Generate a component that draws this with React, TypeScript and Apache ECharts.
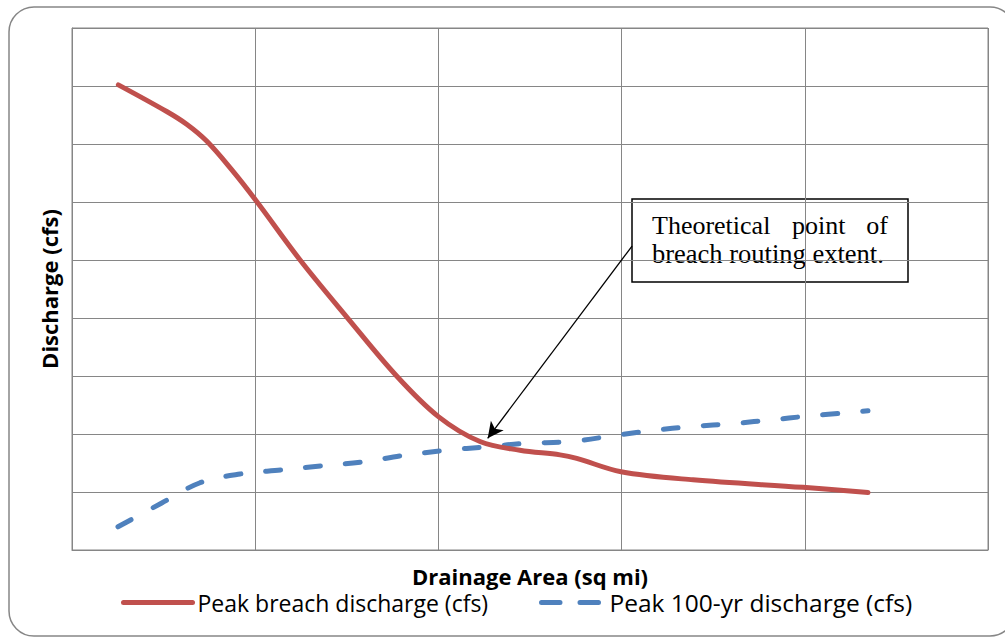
import React, { useEffect, useRef } from "react";
import * as echarts from "echarts";

// Drainage area (chart units) and discharge (chart units)
const breachArea = [0.253, 0.517, 0.626, 0.735, 0.868, 1.003, 1.245, 1.499, 1.772, 2.0, 2.227, 2.445, 2.664, 2.755, 2.997, 3.39, 3.99, 4.345];
const breachDischarge = [8.02, 7.56, 7.34, 7.05, 6.57, 6.03, 5.0, 4.02, 3.0, 2.3, 1.87, 1.72, 1.64, 1.58, 1.35, 1.21, 1.08, 0.99];

const hundredArea = [0.251, 0.49, 0.699, 0.917, 1.145, 1.363, 1.59, 1.808, 2.045, 2.264, 2.482, 2.718, 2.997, 3.164, 3.39, 3.608, 3.837, 3.99, 4.345];
const hundredDischarge = [0.4, 0.81, 1.16, 1.31, 1.38, 1.45, 1.52, 1.63, 1.72, 1.78, 1.84, 1.87, 1.99, 2.06, 2.13, 2.18, 2.25, 2.3, 2.4];

const seriesNames = ["Peak breach discharge (cfs)", "Peak 100-yr discharge (cfs)"];
const xTitle = "Drainage Area (sq mi)";
const yTitle = "Discharge (cfs)";
const noteLine1 = ["Theoretical", "point", "of"];
const noteLine2 = "breach routing extent.";
const arrowFrom = [3.057, 5.24];
const arrowTo = [2.269, 1.926];

const GRID = "#868686";
const SANS = "'Open Sans', sans-serif";
const SERIF = "'Liberation Serif', 'Times New Roman', serif";

export default function App() {
  const ref = useRef<HTMLDivElement>(null);
  useEffect(() => {
    if (!ref.current) return;
    const chart = echarts.init(ref.current, undefined, { renderer: "svg" });
    const axisCommon = {
      type: "value" as const,
      axisLabel: { show: false },
      axisTick: { show: false },
      axisLine: { show: true, lineStyle: { color: GRID, width: 1 } },
      splitLine: { show: true, lineStyle: { color: GRID, width: 1 } },
      nameLocation: "middle" as const,
      nameTextStyle: { fontFamily: SANS, fontWeight: "bold", fontSize: 22, color: "#000" },
    };
    chart.setOption({
      animation: false,
      backgroundColor: "#fff",
      grid: { left: 72, top: 28, right: 17, bottom: 88, show: true, borderColor: GRID, borderWidth: 1 },
      xAxis: { ...axisCommon, min: 0, max: 5, interval: 1, name: xTitle, nameGap: 15 },
      yAxis: { ...axisCommon, min: 0, max: 9, interval: 1, name: yTitle, nameGap: 12 },
      legend: [
        {
          left: 121,
          top: 591,
          padding: 0,
          itemWidth: 69,
          itemHeight: 14,
          itemStyle: { opacity: 0 },
          textStyle: { fontFamily: SANS, fontSize: 23, color: "#000" },
          data: [{ name: seriesNames[0], lineStyle: { width: 5, cap: "round" } }],
        },
        {
          left: 539,
          top: 590,
          padding: 0,
          itemWidth: 63,
          itemHeight: 14,
          itemStyle: { opacity: 0 },
          textStyle: { fontFamily: SANS, fontSize: 24.5, color: "#000" },
          data: [{ name: seriesNames[1], lineStyle: { type: [18.5, 20], width: 5, cap: "round" } }],
        },
      ],
      graphic: [
        {
          type: "rect",
          silent: true,
          z: -10,
          shape: { x: 9, y: 7, width: 1006, height: 629, r: 25 },
          style: { fill: "none", stroke: GRID, lineWidth: 1.5 },
        },
        {
          type: "group",
          z: 100,
          silent: true,
          children: [
            {
              type: "rect",
              shape: { x: 632, y: 199, width: 276, height: 83 },
              style: { fill: "#fff", stroke: "#000", lineWidth: 1.5 },
            },
            { type: "text", x: 652, y: 225, style: { text: noteLine1[0], font: `26px ${SERIF}`, fill: "#000", verticalAlign: "middle" } },
            { type: "text", x: 792, y: 225, style: { text: noteLine1[1], font: `26px ${SERIF}`, fill: "#000", verticalAlign: "middle" } },
            { type: "text", x: 888, y: 225, style: { text: noteLine1[2], font: `26px ${SERIF}`, fill: "#000", verticalAlign: "middle", align: "right" } },
            { type: "text", x: 652, y: 254, style: { text: noteLine2, font: `26.5px ${SERIF}`, fill: "#000", verticalAlign: "middle" } },
          ],
        },
      ],
      series: [
        {
          name: seriesNames[0],
          type: "line",
          data: breachArea.map((x, i) => [x, breachDischarge[i]]),
          smooth: 0.35,
          symbol: "none",
          lineStyle: { color: "#C0504D", width: 5, cap: "round" },
          itemStyle: { color: "#C0504D" },
          z: 3,
          markLine: {
            silent: true,
            symbol: ["none", "arrow"],
            symbolSize: [12, 16],
            label: { show: false },
            lineStyle: { color: "#000", width: 1.3, type: "solid" },
            data: [[{ coord: arrowFrom }, { coord: arrowTo }]],
          },
        },
        {
          name: seriesNames[1],
          type: "line",
          data: hundredArea.map((x, i) => [x, hundredDischarge[i]]),
          smooth: 0.35,
          symbol: "none",
          lineStyle: { color: "#4F81BD", width: 5, type: [15, 25], cap: "round" },
          itemStyle: { color: "#4F81BD" },
          z: 2,
        },
      ],
    });
    return () => chart.dispose();
  }, []);
  return <div ref={ref} style={{ position: "absolute", left: 0, top: 0, width: 1005, height: 638, background: "#fff" }} />;
}
